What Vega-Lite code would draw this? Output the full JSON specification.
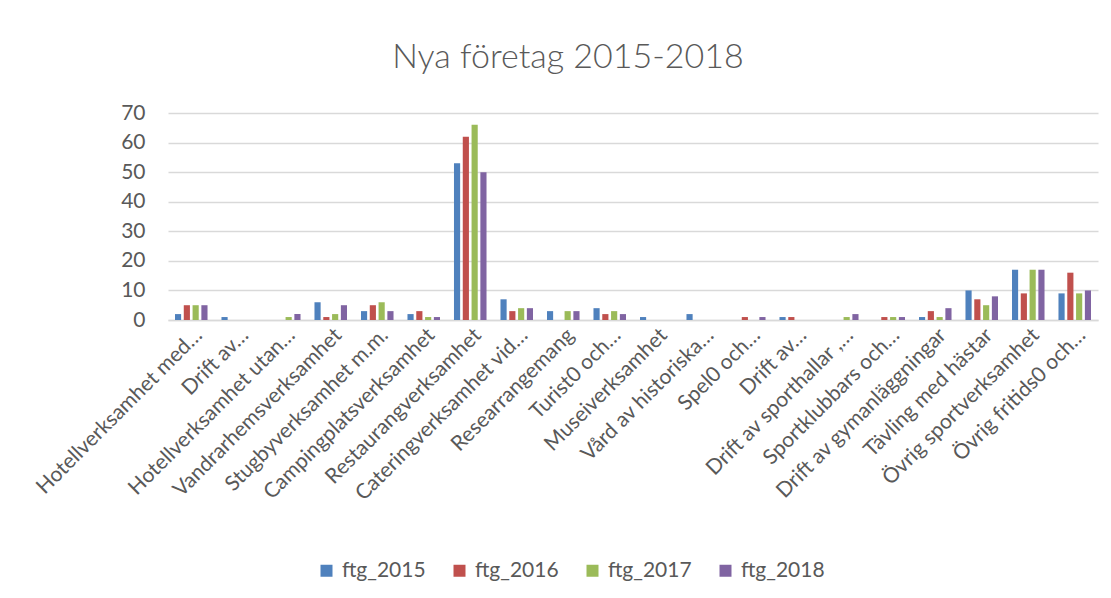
{
  "$schema": "https://vega.github.io/schema/vega-lite/v6.json",
  "autosize": "none",
  "width": 930,
  "height": 207,
  "padding": {"left": 168, "top": 113, "right": 13, "bottom": 278},
  "background": "white",
  "title": {
    "text": "Nya företag 2015-2018",
    "fontSize": 34,
    "font": "Lato",
    "fontWeight": 300,
    "color": "#595959",
    "anchor": "middle",
    "dx": -65,
    "offset": 27
  },
  "datasets": {
    "d": [
      {"kat": "Hotellverksamhet med…", "ord": 1, "serie": "ftg_2015", "v": 2},
      {"kat": "Hotellverksamhet med…", "ord": 1, "serie": "ftg_2016", "v": 5},
      {"kat": "Hotellverksamhet med…", "ord": 1, "serie": "ftg_2017", "v": 5},
      {"kat": "Hotellverksamhet med…", "ord": 1, "serie": "ftg_2018", "v": 5},
      {"kat": "Drift av…", "ord": 2, "serie": "ftg_2015", "v": 1},
      {"kat": "Drift av…", "ord": 2, "serie": "ftg_2016", "v": 0},
      {"kat": "Drift av…", "ord": 2, "serie": "ftg_2017", "v": 0},
      {"kat": "Drift av…", "ord": 2, "serie": "ftg_2018", "v": 0},
      {"kat": "Hotellverksamhet utan…", "ord": 3, "serie": "ftg_2015", "v": 0},
      {"kat": "Hotellverksamhet utan…", "ord": 3, "serie": "ftg_2016", "v": 0},
      {"kat": "Hotellverksamhet utan…", "ord": 3, "serie": "ftg_2017", "v": 1},
      {"kat": "Hotellverksamhet utan…", "ord": 3, "serie": "ftg_2018", "v": 2},
      {"kat": "Vandrarhemsverksamhet", "ord": 4, "serie": "ftg_2015", "v": 6},
      {"kat": "Vandrarhemsverksamhet", "ord": 4, "serie": "ftg_2016", "v": 1},
      {"kat": "Vandrarhemsverksamhet", "ord": 4, "serie": "ftg_2017", "v": 2},
      {"kat": "Vandrarhemsverksamhet", "ord": 4, "serie": "ftg_2018", "v": 5},
      {"kat": "Stugbyverksamhet m.m.", "ord": 5, "serie": "ftg_2015", "v": 3},
      {"kat": "Stugbyverksamhet m.m.", "ord": 5, "serie": "ftg_2016", "v": 5},
      {"kat": "Stugbyverksamhet m.m.", "ord": 5, "serie": "ftg_2017", "v": 6},
      {"kat": "Stugbyverksamhet m.m.", "ord": 5, "serie": "ftg_2018", "v": 3},
      {"kat": "Campingplatsverksamhet", "ord": 6, "serie": "ftg_2015", "v": 2},
      {"kat": "Campingplatsverksamhet", "ord": 6, "serie": "ftg_2016", "v": 3},
      {"kat": "Campingplatsverksamhet", "ord": 6, "serie": "ftg_2017", "v": 1},
      {"kat": "Campingplatsverksamhet", "ord": 6, "serie": "ftg_2018", "v": 1},
      {"kat": "Restaurangverksamhet", "ord": 7, "serie": "ftg_2015", "v": 53},
      {"kat": "Restaurangverksamhet", "ord": 7, "serie": "ftg_2016", "v": 62},
      {"kat": "Restaurangverksamhet", "ord": 7, "serie": "ftg_2017", "v": 66},
      {"kat": "Restaurangverksamhet", "ord": 7, "serie": "ftg_2018", "v": 50},
      {"kat": "Cateringverksamhet vid…", "ord": 8, "serie": "ftg_2015", "v": 7},
      {"kat": "Cateringverksamhet vid…", "ord": 8, "serie": "ftg_2016", "v": 3},
      {"kat": "Cateringverksamhet vid…", "ord": 8, "serie": "ftg_2017", "v": 4},
      {"kat": "Cateringverksamhet vid…", "ord": 8, "serie": "ftg_2018", "v": 4},
      {"kat": "Researrangemang", "ord": 9, "serie": "ftg_2015", "v": 3},
      {"kat": "Researrangemang", "ord": 9, "serie": "ftg_2016", "v": 0},
      {"kat": "Researrangemang", "ord": 9, "serie": "ftg_2017", "v": 3},
      {"kat": "Researrangemang", "ord": 9, "serie": "ftg_2018", "v": 3},
      {"kat": "Turist0 och…", "ord": 10, "serie": "ftg_2015", "v": 4},
      {"kat": "Turist0 och…", "ord": 10, "serie": "ftg_2016", "v": 2},
      {"kat": "Turist0 och…", "ord": 10, "serie": "ftg_2017", "v": 3},
      {"kat": "Turist0 och…", "ord": 10, "serie": "ftg_2018", "v": 2},
      {"kat": "Museiverksamhet", "ord": 11, "serie": "ftg_2015", "v": 1},
      {"kat": "Museiverksamhet", "ord": 11, "serie": "ftg_2016", "v": 0},
      {"kat": "Museiverksamhet", "ord": 11, "serie": "ftg_2017", "v": 0},
      {"kat": "Museiverksamhet", "ord": 11, "serie": "ftg_2018", "v": 0},
      {"kat": "Vård av historiska…", "ord": 12, "serie": "ftg_2015", "v": 2},
      {"kat": "Vård av historiska…", "ord": 12, "serie": "ftg_2016", "v": 0},
      {"kat": "Vård av historiska…", "ord": 12, "serie": "ftg_2017", "v": 0},
      {"kat": "Vård av historiska…", "ord": 12, "serie": "ftg_2018", "v": 0},
      {"kat": "Spel0 och…", "ord": 13, "serie": "ftg_2015", "v": 0},
      {"kat": "Spel0 och…", "ord": 13, "serie": "ftg_2016", "v": 1},
      {"kat": "Spel0 och…", "ord": 13, "serie": "ftg_2017", "v": 0},
      {"kat": "Spel0 och…", "ord": 13, "serie": "ftg_2018", "v": 1},
      {"kat": "Drift av… ", "ord": 14, "serie": "ftg_2015", "v": 1},
      {"kat": "Drift av… ", "ord": 14, "serie": "ftg_2016", "v": 1},
      {"kat": "Drift av… ", "ord": 14, "serie": "ftg_2017", "v": 0},
      {"kat": "Drift av… ", "ord": 14, "serie": "ftg_2018", "v": 0},
      {"kat": "Drift av sporthallar ,…", "ord": 15, "serie": "ftg_2015", "v": 0},
      {"kat": "Drift av sporthallar ,…", "ord": 15, "serie": "ftg_2016", "v": 0},
      {"kat": "Drift av sporthallar ,…", "ord": 15, "serie": "ftg_2017", "v": 1},
      {"kat": "Drift av sporthallar ,…", "ord": 15, "serie": "ftg_2018", "v": 2},
      {"kat": "Sportklubbars och…", "ord": 16, "serie": "ftg_2015", "v": 0},
      {"kat": "Sportklubbars och…", "ord": 16, "serie": "ftg_2016", "v": 1},
      {"kat": "Sportklubbars och…", "ord": 16, "serie": "ftg_2017", "v": 1},
      {"kat": "Sportklubbars och…", "ord": 16, "serie": "ftg_2018", "v": 1},
      {"kat": "Drift av gymanläggningar", "ord": 17, "serie": "ftg_2015", "v": 1},
      {"kat": "Drift av gymanläggningar", "ord": 17, "serie": "ftg_2016", "v": 3},
      {"kat": "Drift av gymanläggningar", "ord": 17, "serie": "ftg_2017", "v": 1},
      {"kat": "Drift av gymanläggningar", "ord": 17, "serie": "ftg_2018", "v": 4},
      {"kat": "Tävling med hästar", "ord": 18, "serie": "ftg_2015", "v": 10},
      {"kat": "Tävling med hästar", "ord": 18, "serie": "ftg_2016", "v": 7},
      {"kat": "Tävling med hästar", "ord": 18, "serie": "ftg_2017", "v": 5},
      {"kat": "Tävling med hästar", "ord": 18, "serie": "ftg_2018", "v": 8},
      {"kat": "Övrig sportverksamhet", "ord": 19, "serie": "ftg_2015", "v": 17},
      {"kat": "Övrig sportverksamhet", "ord": 19, "serie": "ftg_2016", "v": 9},
      {"kat": "Övrig sportverksamhet", "ord": 19, "serie": "ftg_2017", "v": 17},
      {"kat": "Övrig sportverksamhet", "ord": 19, "serie": "ftg_2018", "v": 17},
      {"kat": "Övrig fritids0 och…", "ord": 20, "serie": "ftg_2015", "v": 9},
      {"kat": "Övrig fritids0 och…", "ord": 20, "serie": "ftg_2016", "v": 16},
      {"kat": "Övrig fritids0 och…", "ord": 20, "serie": "ftg_2017", "v": 9},
      {"kat": "Övrig fritids0 och…", "ord": 20, "serie": "ftg_2018", "v": 10}
    ]
  },
  "data": {"name": "d"},
  "mark": {"type": "bar"},
  "encoding": {
    "x": {
      "field": "kat",
      "type": "nominal",
      "sort": {"field": "ord", "op": "min"},
      "scale": {"paddingInner": 0.3, "paddingOuter": 0.15},
      "axis": {
        "title": null,
        "labelAngle": -45,
        "labelAlign": "right",
        "labelBaseline": "top",
        "labelFont": "Lato",
        "labelFontSize": 21,
        "labelColor": "#595959",
        "labelLimit": 400,
        "labelPadding": 4,
        "ticks": false,
        "domainColor": "#d9d9d9",
        "domainWidth": 1.5
      }
    },
    "xOffset": {"field": "serie", "type": "nominal", "scale": {"paddingInner": 0.3}},
    "y": {
      "field": "v",
      "type": "quantitative",
      "scale": {"domain": [0, 70]},
      "axis": {
        "title": null,
        "values": [0, 10, 20, 30, 40, 50, 60, 70],
        "labelFont": "Lato",
        "labelFontSize": 21,
        "labelColor": "#595959",
        "labelPadding": 23,
        "ticks": false,
        "domain": false,
        "gridColor": "#d9d9d9",
        "gridWidth": 1.5
      }
    },
    "color": {
      "field": "serie",
      "type": "nominal",
      "scale": {
        "domain": ["ftg_2015", "ftg_2016", "ftg_2017", "ftg_2018"],
        "range": ["#4f81bd", "#c0504d", "#9bbb59", "#8064a2"]
      },
      "legend": {
        "title": null,
        "orient": "none",
        "direction": "horizontal",
        "legendX": 148,
        "legendY": 447,
        "symbolType": "square",
        "symbolSize": 144,
        "symbolStrokeWidth": 0,
        "labelFont": "Lato",
        "labelFontSize": 21,
        "labelColor": "#595959",
        "labelOffset": 5,
        "columnPadding": 23
      }
    }
  },
  "config": {"view": {"stroke": null}}
}
